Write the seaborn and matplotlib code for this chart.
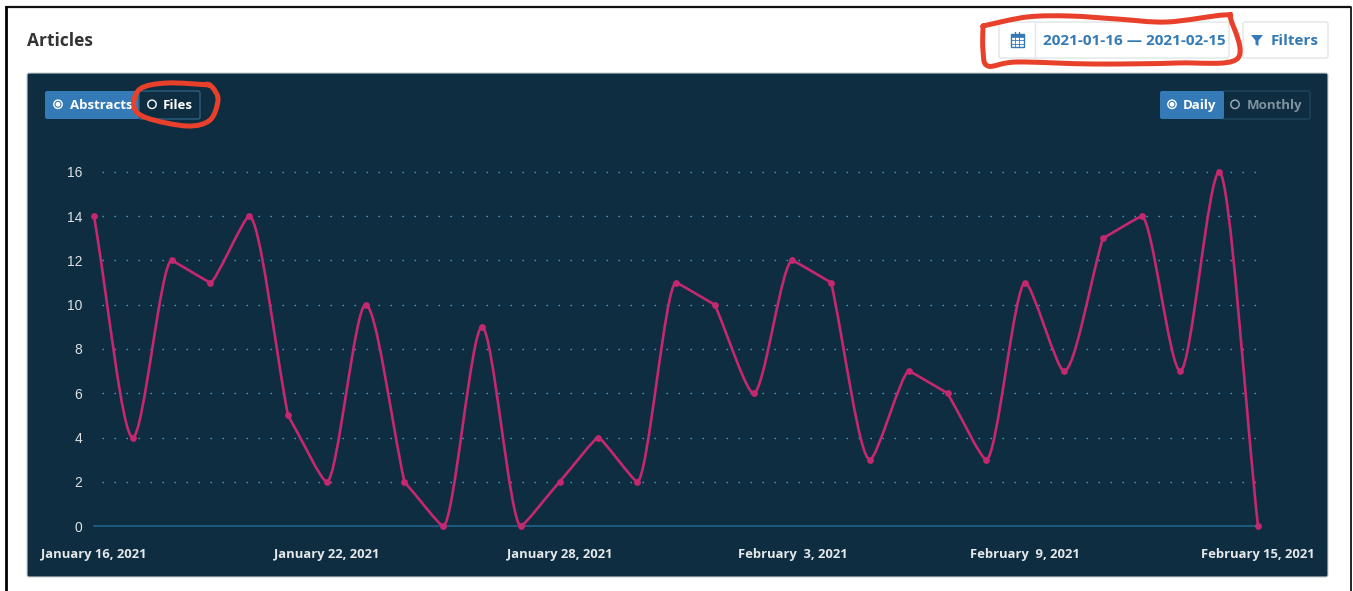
import numpy as np
import pandas as pd
import matplotlib
matplotlib.use("Agg")
import matplotlib.pyplot as plt
from matplotlib.patches import FancyBboxPatch, PathPatch, Rectangle, Circle
from matplotlib.path import Path
import seaborn as sns

dates = pd.date_range("2021-01-16", "2021-02-15", freq="D")
articles = [14, 4, 12, 11, 14, 5, 2, 10, 2, 0, 9, 0, 2, 4, 2, 11, 10, 6, 12, 11, 3, 7, 6, 3, 11, 7, 13, 14, 7, 16, 0]
y_ticks = [0, 2, 4, 6, 8, 10, 12, 14, 16]
x_tick_days = [0, 6, 12, 18, 24, 30]
x_tick_labels = ["January 16, 2021", "January 22, 2021", "January 28, 2021",
                 "February  3, 2021", "February  9, 2021", "February 15, 2021"]

W, H = 1353, 591
NAVY = "#0f2d40"
BLUE = "#337ab7"
PINK = "#c4286f"
RED = "#e8402a"
FONT = "Open Sans"

sns.set_theme(style="white")
plt.rcParams["font.family"] = [FONT, "DejaVu Sans"]
fig = plt.figure(figsize=(W / 100, H / 100), dpi=100, facecolor="white")

# page chrome, pixel coordinates
bg = fig.add_axes([0, 0, 1, 1], zorder=0)
bg.set_xlim(0, W); bg.set_ylim(H, 0); bg.axis("off")

def box(x0, y0, x1, y1, fc, ec="none", lw=1.0, z=1, r=2):
    bg.add_patch(FancyBboxPatch((x0 + r, y0 + r), x1 - x0 - 2 * r, y1 - y0 - 2 * r,
                                boxstyle=f"round,pad={r},rounding_size={r}",
                                fc=fc, ec=ec, lw=lw, zorder=z))

# screenshot border
bg.plot([6, W - 3], [7, 7], color="#111111", lw=1.6, zorder=6)
bg.plot([1350.5, 1350.5], [7, H], color="black", lw=1.2, zorder=6)
bg.plot([5.5, 5.5], [7, H], color="black", lw=2, zorder=6)

bg.text(27, 46, "Articles", fontsize=12.5, fontweight="bold", color="#333333", va="baseline")

# date range and filter buttons
box(999, 22, 1229, 58, "white", "#e2e6e8", 1)
bg.plot([1034.5, 1034.5], [22, 58], color="#e2e6e8", lw=1, zorder=2)
box(1243, 22, 1328, 58, "white", "#e2e6e8", 1)
bg.text(1043, 45, "2021-01-16 \u2014 2021-02-15", fontsize=11, fontweight="bold", color=BLUE, va="baseline", zorder=3)
bg.text(1271, 45, "Filters", fontsize=11, fontweight="bold", color=BLUE, va="baseline", zorder=3)
# calendar icon
bg.add_patch(Rectangle((1010.5, 34), 13, 13, fc="none", ec=BLUE, lw=1, zorder=3))
bg.add_patch(Rectangle((1010.5, 34), 13, 3, fc=BLUE, ec=BLUE, lw=0.5, zorder=3))
for gx in (1014.8, 1019.2):
    bg.plot([gx, gx], [37, 47], color=BLUE, lw=0.6, zorder=3)
    bg.plot([gx, gx], [32, 35], color=BLUE, lw=1, zorder=3)
for gy in (40.3, 43.6):
    bg.plot([1010.5, 1023.5], [gy, gy], color=BLUE, lw=0.6, zorder=3)
# funnel icon
bg.add_patch(plt.Polygon([(1251, 35), (1263, 35), (1258.5, 40.5), (1258.5, 46), (1255.5, 44.5), (1255.5, 40.5)],
                         fc=BLUE, ec="none", zorder=3))

# dark panel
box(27, 73, 1328, 577, NAVY, "#c9d1d6", 0.8, z=1)

# toggles
box(45, 91, 142, 119, BLUE, z=2)
box(139, 91, 200, 119, NAVY, "#2c5f80", 1, z=2.2)
box(1221, 91, 1310, 119, NAVY, "#1f4660", 1, z=2)
box(1160, 91, 1224, 119, BLUE, z=2.2)

def radio(x, y, on, color):
    bg.add_patch(Circle((x, y), 4.2, fc="none", ec=color, lw=1, zorder=3))
    if on:
        bg.add_patch(Circle((x, y), 2.4, fc=color, ec="none", zorder=3))

radio(58, 104.3, True, "white")
bg.text(70, 109, "Abstracts", fontsize=9.5, fontweight="bold", color="white", va="baseline", zorder=3)
radio(152, 104.3, False, "white")
bg.text(163, 109, "Files", fontsize=9.5, fontweight="bold", color="white", va="baseline", zorder=3)
radio(1172, 104.3, True, "white")
bg.text(1183, 109, "Daily", fontsize=9.5, fontweight="bold", color="white", va="baseline", zorder=3)
radio(1235, 104.3, False, "#9fb0ba")
bg.text(1247, 109, "Monthly", fontsize=9.5, fontweight="bold", color="#7f929e", va="baseline", zorder=3)

def scribble(points):
    """Hand stroke: a Catmull-Rom path through pixel points."""
    p = np.array(points, float)
    verts, codes = [tuple(p[0])], [Path.MOVETO]
    for i in range(len(p) - 1):
        a, b = p[max(i - 1, 0)], p[min(i + 2, len(p) - 1)]
        verts += [tuple(p[i] + (p[i + 1] - a) / 6), tuple(p[i + 1] - (b - p[i]) / 6), tuple(p[i + 1])]
        codes += [Path.CURVE4] * 3
    bg.add_patch(PathPatch(Path(verts, codes), fc="none", ec=RED, lw=3.6, capstyle="round", zorder=5))

scribble([(983, 26), (1027, 17), (1070, 16), (1117, 19), (1167, 22), (1224, 15), (1231, 20),
          (1237, 59), (1177, 63), (1093, 64), (1017, 62), (988, 66), (983, 50), (983, 26)])
scribble([(210, 85), (167, 83), (140, 89), (134, 107), (147, 118), (187, 126), (210, 120),
          (218, 100), (213, 88), (207, 84)])

# chart axes: x index 0 -> 94 px, 30 -> 1258 px; value 0 -> 526 px, 16 -> 172 px
ax = fig.add_axes([94 / W, 1 - 526 / H, (1258 - 94) / W, (526 - 172) / H], zorder=2)
ax.patch.set_alpha(0)
ax.set_xlim(0, 30); ax.set_ylim(0, 16)
for s in ax.spines.values():
    s.set_visible(False)

for v in y_ticks[1:]:
    ax.plot([0.2, 30], [v, v], color="#4a9fd6", lw=1.0, ls=(0, (1, 7.64)), zorder=1, clip_on=False)
ax.plot([0, 30], [0, 0], color="#1f5f88", lw=1.3, zorder=1, clip_on=False)

df = pd.DataFrame({"day": np.arange(len(dates)), "articles": articles})

# smooth line: one Bezier per interval; flat handles at local extremes,
# handles along the interval's own slope elsewhere
xs, ys = df["day"].to_numpy(float), df["articles"].to_numpy(float)
n = len(xs)

def is_extreme(i):
    if i == 0 or i == n - 1:
        return False
    return (ys[i] - ys[i - 1]) * (ys[i + 1] - ys[i]) <= 0

verts = [(xs[0], ys[0])]
codes = [Path.MOVETO]
for i in range(n - 1):
    dx = xs[i + 1] - xs[i]
    dy = ys[i + 1] - ys[i]
    f = 0.28 * min(1.0, abs(dy) / 6.0)
    c1 = (xs[i] + f * dx, ys[i]) if is_extreme(i) else (xs[i] + dx / 3, ys[i] + dy / 3)
    c2 = (xs[i + 1] - f * dx, ys[i + 1]) if is_extreme(i + 1) else (xs[i + 1] - dx / 3, ys[i + 1] - dy / 3)
    verts += [c1, c2, (xs[i + 1], ys[i + 1])]
    codes += [Path.CURVE4] * 3
ax.add_patch(PathPatch(Path(verts, codes), fc="none", ec=PINK, lw=1.9, zorder=3, clip_on=False))

sns.scatterplot(data=df, x="day", y="articles", ax=ax, color=PINK, s=24, linewidth=0, zorder=4, clip_on=False)

ax.set_xlabel(""); ax.set_ylabel("")
ax.set_yticks(y_ticks)
ax.set_yticklabels([str(v) for v in y_ticks], fontsize=10, color="#dde1e4", family="Liberation Sans")
ax.set_xticks(x_tick_days)
ax.set_xticklabels(x_tick_labels, fontsize=9.4, fontweight="bold", color="#e4e8ea")
ax.tick_params(axis="y", length=0, pad=8.5)
ax.tick_params(axis="x", length=0, pad=16)
fig.savefig("out.png", dpi=100, facecolor="white")
